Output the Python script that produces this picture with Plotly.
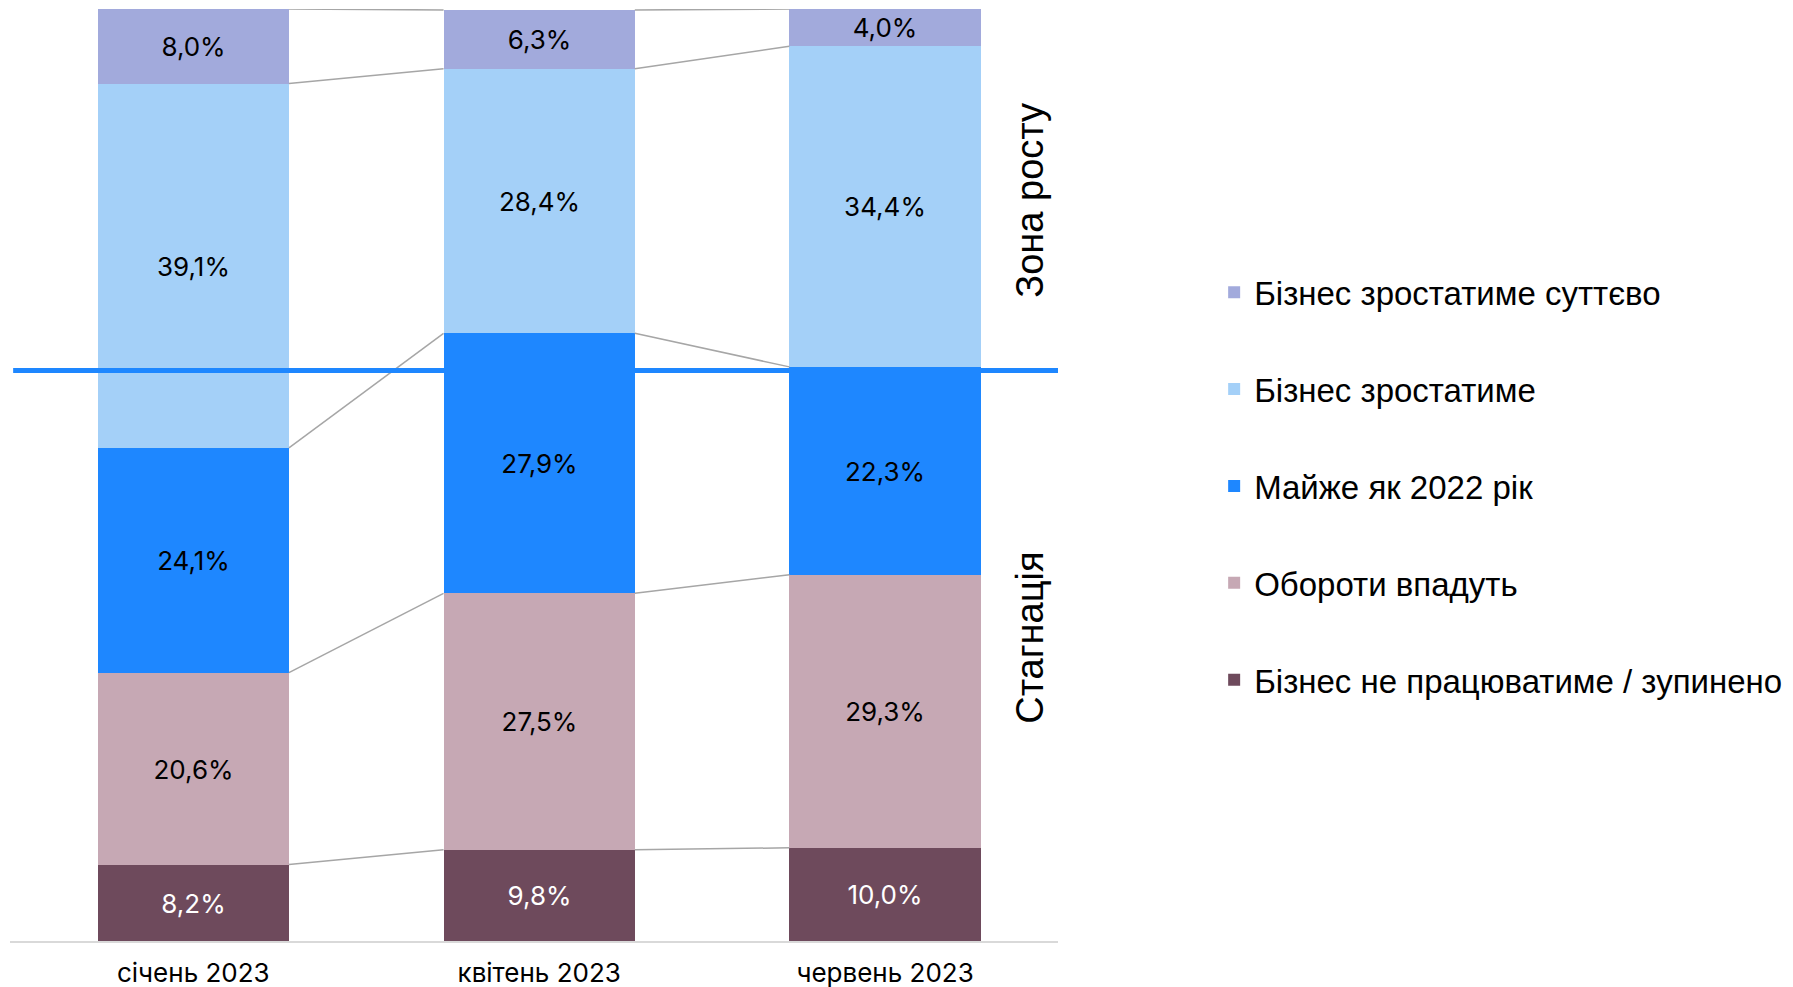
import plotly.graph_objects as go

categories = ["січень 2023", "квітень 2023", "червень 2023"]
series_names = [
    "Бізнес не працюватиме / зупинено",
    "Обороти впадуть",
    "Майже як 2022 рік",
    "Бізнес зростатиме",
    "Бізнес зростатиме суттєво",
]
stopped = [8.2, 9.8, 10.0]
decline = [20.6, 27.5, 29.3]
same = [24.1, 27.9, 22.3]
grow = [39.1, 28.4, 34.4]
grow_strong = [8.0, 6.3, 4.0]
series_values = [stopped, decline, same, grow, grow_strong]
colors = ["#6E4A5C", "#C6A8B4", "#1E87FF", "#A4D0F8", "#A2AADC"]
text_colors = ["white", "black", "black", "black", "black"]
zone_labels = ["Зона росту", "Стагнація"]
divider_level = 61.2

BAR_W = 0.553

fig = go.Figure()
for idx, (name, vals, col, tcol) in enumerate(zip(series_names, series_values, colors, text_colors)):
    fig.add_trace(go.Bar(
        x=categories, y=vals, name=name, marker=dict(color=col, line=dict(width=0)),
        width=BAR_W,
        text=[f"{v:.1f}%".replace(".", ",") for v in vals],
        textposition="inside", insidetextanchor="middle",
        textfont=dict(color=tcol, size=26, family="Inter"),
        legendgroup=name, legendrank=len(series_names) - idx, hoverinfo="skip",
    ))

# connector lines between bar tops
cum = [0.0, 0.0, 0.0]
for vals in series_values:
    cum = [c + v for c, v in zip(cum, vals)]
    for i in range(len(categories) - 1):
        fig.add_trace(go.Scatter(
            x=[i + BAR_W / 2, i + 1 - BAR_W / 2], y=[cum[i], cum[i + 1]],
            mode="lines", line=dict(color="#A6A6A6", width=1.5),
            showlegend=False, hoverinfo="skip", xaxis="x2",
        ))

fig.add_shape(type="line", xref="paper", yref="y", x0=0.003, x1=1.0,
              y0=divider_level, y1=divider_level, line=dict(color="#1E87FF", width=5))

fig.add_annotation(text=zone_labels[0], textangle=-90, xref="paper", yref="paper",
                   x=0.973, y=0.795, xanchor="center", yanchor="middle", showarrow=False,
                   font=dict(size=38, family="Liberation Sans", color="black"))
fig.add_annotation(text=zone_labels[1], textangle=-90, xref="paper", yref="paper",
                   x=0.973, y=0.325, xanchor="center", yanchor="middle", showarrow=False,
                   font=dict(size=38, family="Liberation Sans", color="black"))

fig.update_layout(
    width=1793, height=987,
    margin=dict(l=2, r=743, t=1, b=54),
    plot_bgcolor="white", paper_bgcolor="white",
    barmode="stack", bargap=0,
    xaxis=dict(type="category", range=[-0.53, 2.5], showgrid=False, showline=True,
               linecolor="#D9D9D9", linewidth=2, ticks="", fixedrange=True,
               ticklabelstandoff=8,
               tickfont=dict(size=26, family="Inter", color="black")),
    xaxis2=dict(range=[-0.53, 2.5], overlaying="x", visible=False),
    yaxis=dict(range=[0, 100], visible=False, showgrid=False),
    legend=dict(x=1.149, xanchor="left", y=0.488, yanchor="middle",
                traceorder="grouped", tracegroupgap=51,
                font=dict(size=33, family="Liberation Sans", color="black"),
                itemwidth=30),
    showlegend=True,
)

fig.write_html("out.html")
